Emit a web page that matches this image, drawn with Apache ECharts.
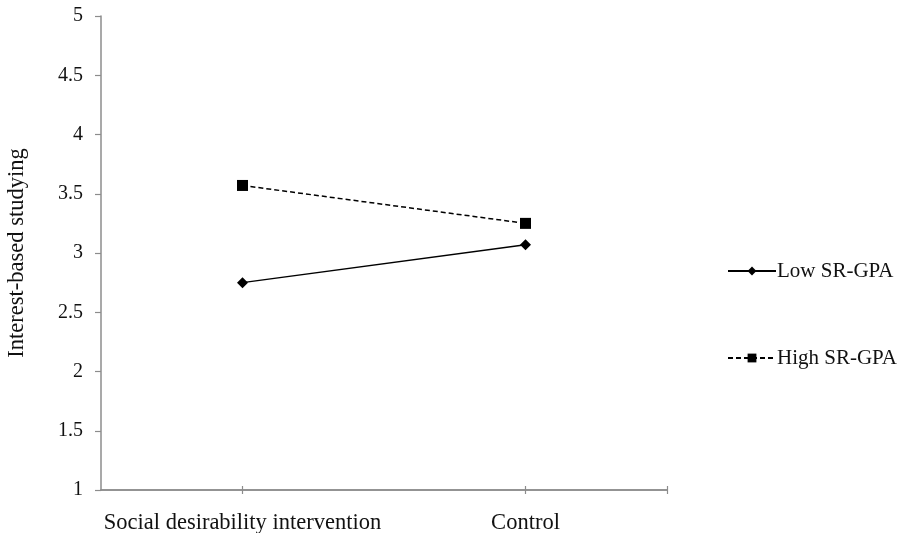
<!DOCTYPE html>
<html>
<head>
<meta charset="utf-8">
<script src="https://cdn.jsdelivr.net/npm/echarts@6/dist/echarts.min.js"></script>
<style>
  html, body { margin: 0; padding: 0; background: #fff; }
  #chart { width: 898px; height: 533px; }
</style>
</head>
<body>
<div id="chart"></div>
<script>
// Conditions on the horizontal axis
const categories = ['Social desirability intervention', 'Control'];
// Mean interest-based studying per condition
const lowSRGPA = [2.75, 3.07];
const highSRGPA = [3.57, 3.25];
// Y-axis range and step
const yMin = 1, yMax = 5, yStep = 0.5;

const serif = '"Liberation Serif", "DejaVu Serif", serif';
const axisGray = '#8c8c8c';

// Category positions on a numeric axis so ticks can sit at label centres and the far end
const pts = (vals) => vals.map((v, i) => [i, v]);
const xRange = { min: -0.5, max: categories.length - 0.5 };

const baseX = {
  type: 'value',
  position: 'bottom',
  min: xRange.min,
  max: xRange.max,
  splitLine: { show: false },
  axisLine: { show: true, onZero: false, lineStyle: { color: axisGray, width: 1.5 } }
};
const tickPositions = categories.map((_, i) => i).concat([xRange.max]);

const chart = echarts.init(document.getElementById('chart'), null, { renderer: 'canvas' });
chart.setOption({
  animation: false,
  backgroundColor: '#fff',
  grid: { left: 101, right: 231, top: 16, bottom: 43, containLabel: false, outerBoundsMode: 'none' },
  xAxis: [
    Object.assign({}, baseX, {
      axisTick: { show: true, length: 4, customValues: tickPositions, lineStyle: { color: axisGray, width: 1.2 } },
      axisLabel: {
        show: true,
        customValues: categories.map((_, i) => i),
        formatter: (v) => categories[Math.round(v)],
        color: '#111',
        fontFamily: serif,
        fontSize: 22.5,
        margin: 22
      }
    }),
    Object.assign({}, baseX, {
      axisTick: { show: true, inside: true, length: 4, customValues: tickPositions, lineStyle: { color: axisGray, width: 1.2 } },
      axisLabel: { show: false }
    })
  ],
  yAxis: {
    type: 'value',
    min: yMin,
    max: yMax,
    interval: yStep,
    name: 'Interest-based studying',
    nameLocation: 'middle',
    nameGap: 72,
    nameRotate: 90,
    nameTextStyle: { color: '#111', fontFamily: serif, fontSize: 22.5 },
    splitLine: { show: false },
    axisLine: { show: true, onZero: false, lineStyle: { color: axisGray, width: 1.5 } },
    axisTick: { show: true, length: 6, lineStyle: { color: axisGray, width: 1.2 } },
    axisLabel: {
      color: '#111',
      fontFamily: serif,
      fontSize: 20,
      margin: 18,
      formatter: (v) => String(v)
    }
  },
  legend: {
    orient: 'vertical',
    left: 722,
    top: 255,
    itemGap: 65,
    itemWidth: 48,
    itemHeight: 11,
    textStyle: { color: '#111', fontFamily: serif, fontSize: 21, lineHeight: 22, padding: [0, 0, 0, -4] },
    data: ['Low SR-GPA', 'High SR-GPA']
  },
  series: [
    {
      name: 'Low SR-GPA',
      type: 'line',
      data: pts(lowSRGPA),
      symbol: 'diamond',
      symbolSize: 11,
      lineStyle: { color: '#000', width: 1.5, type: 'solid' },
      itemStyle: { color: '#000' }
    },
    {
      name: 'High SR-GPA',
      type: 'line',
      data: pts(highSRGPA),
      symbol: 'rect',
      symbolSize: 11,
      lineStyle: { color: '#000', width: 1.5, type: [5, 3] },
      itemStyle: { color: '#000' }
    }
  ]
});
</script>
</body>
</html>
